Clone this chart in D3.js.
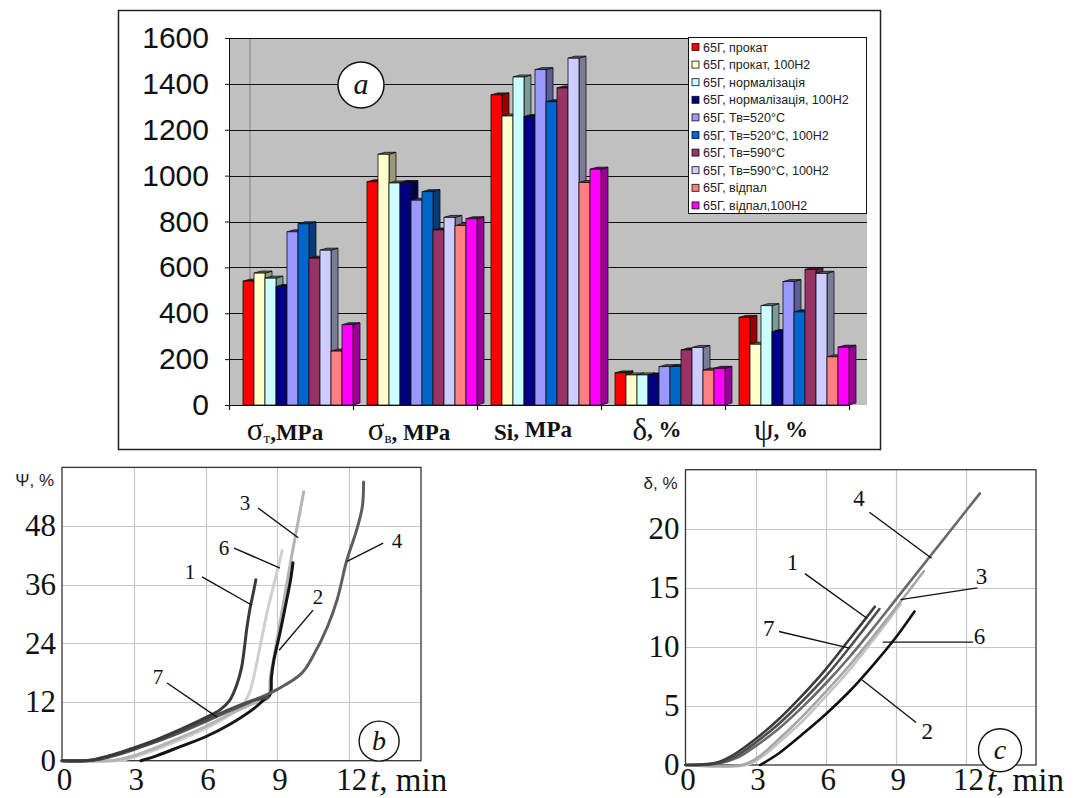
<!DOCTYPE html>
<meta charset="utf-8">
<style>

body {
  margin: 0;
  background: #fff;
}

svg {
  display: block;
}

.bar-axis text {
  font-family: "Liberation Sans", Arial, sans-serif;
  font-size: 30px;
  fill: #111;
}

.cat-label {
  font-family: "Liberation Serif", "Times New Roman", serif;
  font-weight: bold;
  fill: #111;
}

.legend text {
  font-family: "Liberation Sans", Arial, sans-serif;
  font-size: 12.5px;
  fill: #222;
}

.panel-axis text {
  font-family: "Liberation Serif", "Times New Roman", serif;
  font-size: 31px;
  fill: #111;
}

.curve {
  fill: none;
  stroke-linecap: round;
  stroke-linejoin: round;
}

.num-label {
  font-family: "Liberation Serif", "Times New Roman", serif;
  fill: #111;
}

</style>
<svg width="1082" height="798"></svg>

<script src="https://cdn.jsdelivr.net/npm/d3@7"></script>
<script>

// ---- (a) bar chart data ----
var seriesNames = [
  "65Г, прокат",
  "65Г, прокат, 100Н2",
  "65Г, нормалізація",
  "65Г, нормалізація, 100Н2",
  "65Г, Тв=520°С",
  "65Г, Тв=520°С, 100Н2",
  "65Г, Тв=590°С",
  "65Г, Тв=590°С, 100Н2",
  "65Г, відпал",
  "65Г, відпал,100Н2"
];
var seriesColors = ["#ff0000", "#ffffcc", "#ccffff", "#000080", "#9999ff",
                    "#0066cc", "#993366", "#ccccff", "#ff8080", "#ff00ff"];

var barCategories = ["σт", "σв", "Si", "δ", "ψ"];
var categoryMain = ["σ", "σ", "Si", "δ", "ψ"];
var categorySub = ["т", "в", "", "", ""];
var categoryUnit = [",MPa", ", MPa", ", MPa", ", %", ", %"];

var sigmaT = [540, 575, 553, 517, 755, 790, 640, 675, 235, 350];
var sigmaB = [973, 1093, 968, 970, 893, 930, 763, 818, 782, 812];
var siValues = [1352, 1260, 1430, 1258, 1462, 1322, 1382, 1512, 970, 1028];
var deltaValues = [140, 131, 131, 131, 167, 168, 240, 251, 152, 160];
var psiValues = [382, 265, 433, 320, 538, 406, 591, 574, 210, 252];

var barTicks = [0, 200, 400, 600, 800, 1000, 1200, 1400, 1600];

// ---- (b) and (c) curve data: [t, value] ----
var timeTicks = [0, 3, 6, 9, 12];
var psiTicks = [0, 12, 24, 36, 48];
var deltaTicks = [0, 5, 10, 15, 20];

var psiCurve1 = [[0, 0], [1.2, 0.1], [2, 1], [3, 2.6], [4, 4.4], [5, 6.5], [6, 8.8], [6.6, 10.4], [7, 12.3], [7.3, 15.5], [7.5, 19], [7.62, 23], [7.72, 27], [7.85, 31], [8.0, 34.5], [8.1, 37]];
var psiCurve2 = [[3.3, 0], [4, 1.1], [5, 3], [6, 4.9], [7, 7.4], [8, 10.6], [8.4, 12.3], [8.7, 13.6], [8.75, 17], [8.85, 20.5], [9.1, 26], [9.35, 32], [9.55, 37], [9.65, 40.5]];
var psiCurve3 = [[0, 0], [2.2, 0.1], [3, 1], [4, 2.8], [5, 4.8], [6, 7], [7, 9.5], [8, 11.7], [8.55, 12.6], [8.65, 13], [8.7, 17], [8.85, 21], [9.1, 28], [9.35, 35], [9.6, 42], [9.85, 48.5], [10.1, 55]];
var psiCurve4 = [[0, 0], [1.2, 0.1], [2, 1], [3, 2.4], [4, 4], [5, 5.9], [6, 8], [7, 10.2], [8, 12.3], [9, 14.6], [10, 17.8], [10.5, 21.5], [11.1, 27.5], [11.5, 33], [11.9, 41], [12.3, 47], [12.55, 52], [12.6, 57]];
var psiCurve6 = [[0, 0], [2.5, 0.1], [3, 0.7], [4, 2.4], [5, 4.4], [6, 6.6], [7, 9.3], [7.5, 11.2], [7.8, 13.5], [8.05, 18], [8.3, 24], [8.6, 31], [8.9, 37], [9.2, 43]];
var psiCurve7 = [[0, 0], [1.3, 0.1], [2, 0.8], [3, 2.3], [4, 4.1], [5, 6.1], [6, 8.3], [7, 10.5], [8, 12.4], [8.6, 13]];

var deltaCurve1 = [[0, 0], [1.3, 0.2], [2, 0.8], [3, 2.2], [4, 3.9], [5, 5.9], [6, 8.1], [7, 10.6], [8.1, 13.4]];
var deltaCurve2 = [[3.2, 0], [4, 1], [5, 2.6], [6, 4.3], [7, 6.2], [8, 8.4], [9, 10.8], [9.8, 13]];
var deltaCurve3 = [[0, 0], [2.4, 0], [3, 0.5], [4, 2.2], [5, 4.1], [6, 6.2], [7, 8.4], [8, 10.8], [9, 13.3], [10.2, 16.4]];
var deltaCurve4 = [[0, 0], [1.3, 0.1], [2.2, 0.6], [3, 1.6], [4, 3.1], [5, 4.9], [6, 6.9], [7, 9.1], [8, 11.5], [9, 14], [10, 16.5], [11, 19], [12, 21.5], [12.6, 23]];
var deltaCurve6 = [[0, 0], [2.6, 0], [3.2, 0.6], [4, 1.9], [5, 3.7], [6, 5.8], [7, 8], [8, 10.5], [9.2, 13.6]];
var deltaCurve7 = [[0, 0], [1.5, 0.2], [2.2, 0.8], [3, 1.9], [4, 3.5], [5, 5.4], [6, 7.5], [7, 9.9], [8.3, 13.2]];

var svg = d3.select("svg");

// ================= (a) =================
var barValues = [sigmaT, sigmaB, siValues, deltaValues, psiValues];
var plot = {left: 229, right: 849, wallRight: 867, top: 38, bottom: 405};
var depthX = 7, depthY = 2;

var yBar = d3.scaleLinear().domain([0, 1600]).range([plot.bottom, plot.top]);
var x0 = d3.scaleBand().domain(barCategories).range([plot.left, plot.right]);
var x1 = d3.scaleBand().domain(seriesNames).range([14, 124]);

svg.append("rect")
    .attr("x", 118.5).attr("y", 10.5)
    .attr("width", 762).attr("height", 439)
    .attr("fill", "#fff").attr("stroke", "#222").attr("stroke-width", 1.5);

svg.append("rect")
    .attr("x", plot.left).attr("y", plot.top)
    .attr("width", plot.wallRight - plot.left).attr("height", plot.bottom - plot.top)
    .attr("fill", "#c0c0c0");

svg.append("line")
    .attr("x1", 250).attr("x2", 250)
    .attr("y1", plot.top).attr("y2", plot.bottom - 4)
    .attr("stroke", "#808080");

svg.append("g")
  .selectAll("line")
  .data(barTicks.slice(1))
  .join("line")
    .attr("x1", plot.left).attr("x2", plot.wallRight)
    .attr("y1", function(d) { return Math.round(yBar(d)) + 0.5; })
    .attr("y2", function(d) { return Math.round(yBar(d)) + 0.5; })
    .attr("stroke", "#111");

var barData = [];
barCategories.forEach(function(c, ci) {
  seriesNames.forEach(function(s, si) {
    barData.push({cat: c, series: s, color: seriesColors[si], value: barValues[ci][si]});
  });
});

function shade(c, k) {
  var r = d3.rgb(c);
  return d3.rgb(r.r * k, r.g * k, r.b * k).toString();
}

var bar = svg.append("g")
  .selectAll("g")
  .data(barData)
  .join("g");

bar.append("path")
    .attr("d", function(d) {
      var x = x0(d.cat) + x1(d.series) + x1.bandwidth(), y = yBar(d.value), y0 = yBar(0);
      return "M" + x + "," + y + "L" + (x + depthX) + "," + (y - depthY) +
             "L" + (x + depthX) + "," + (y0 - depthY) + "L" + x + "," + y0 + "Z";
    })
    .attr("fill", function(d) { return shade(d.color, 0.6); })
    .attr("stroke", "#111").attr("stroke-width", 0.8);

bar.append("path")
    .attr("d", function(d) {
      var x = x0(d.cat) + x1(d.series), w = x1.bandwidth(), y = yBar(d.value);
      return "M" + x + "," + y + "L" + (x + depthX) + "," + (y - depthY) +
             "L" + (x + w + depthX) + "," + (y - depthY) + "L" + (x + w) + "," + y + "Z";
    })
    .attr("fill", function(d) { return shade(d.color, 0.45); })
    .attr("stroke", "#111").attr("stroke-width", 0.8);

bar.append("rect")
    .attr("x", function(d) { return x0(d.cat) + x1(d.series); })
    .attr("y", function(d) { return yBar(d.value); })
    .attr("width", x1.bandwidth())
    .attr("height", function(d) { return yBar(0) - yBar(d.value); })
    .attr("fill", function(d) { return d.color; })
    .attr("stroke", "#111").attr("stroke-width", 0.8);

var yAxis = svg.append("g")
    .attr("class", "bar-axis")
    .attr("transform", "translate(" + plot.left + ",0)")
    .call(d3.axisLeft(yBar).tickValues(barTicks).tickFormat(d3.format("d"))
      .tickSize(4).tickPadding(16).tickSizeOuter(0));
yAxis.selectAll("line, path").attr("stroke", "#111");

var xEdge = d3.scaleLinear().domain([0, barCategories.length]).range([plot.left, plot.right]);
var xAxis = svg.append("g")
    .attr("transform", "translate(0," + plot.bottom + ")")
    .call(d3.axisBottom(xEdge).tickValues(d3.range(barCategories.length + 1)).tickSize(5).tickFormat("").tickSizeOuter(0));
xAxis.selectAll("line, path").attr("stroke", "#111").attr("stroke-width", 1.2);

var catLabel = svg.append("g")
  .selectAll("text")
  .data(barCategories)
  .join("text")
    .attr("class", "cat-label")
    .attr("x", function(d) { return x0(d) + x0.bandwidth() / 2 - 6; })
    .attr("y", 440)
    .attr("text-anchor", "middle");

catLabel.append("tspan")
    .attr("font-size", function(d, i) { return categoryMain[i].length === 1 ? 31 : 23; })
    .attr("font-weight", function(d, i) { return categoryMain[i].length === 1 ? "normal" : "bold"; })
    .text(function(d, i) { return categoryMain[i]; });
catLabel.append("tspan")
    .attr("font-size", 15)
    .attr("font-weight", "normal")
    .attr("dy", 3)
    .text(function(d, i) { return categorySub[i]; });
catLabel.append("tspan")
    .attr("font-size", 23)
    .attr("dy", -3)
    .text(function(d, i) { return categoryUnit[i]; });

var legend = svg.append("g").attr("class", "legend");
legend.append("rect")
    .attr("x", 688.5).attr("y", 37.5)
    .attr("width", 178).attr("height", 176)
    .attr("fill", "#fff").attr("stroke", "#111");

var legendItem = legend.selectAll("g")
  .data(seriesNames)
  .join("g")
    .attr("transform", function(d, i) { return "translate(692," + (47 + i * 17.6) + ")"; });

legendItem.append("rect")
    .attr("x", 0).attr("y", -3.5)
    .attr("width", 7).attr("height", 7)
    .attr("fill", function(d, i) { return seriesColors[i]; })
    .attr("stroke", "#111").attr("stroke-width", 0.8);

legendItem.append("text")
    .attr("x", 11)
    .attr("dy", "0.36em")
    .text(function(d) { return d; });

svg.append("circle")
    .attr("cx", 361).attr("cy", 85).attr("r", 23)
    .attr("fill", "#fff").attr("stroke", "#111").attr("stroke-width", 1.5);
svg.append("text")
    .attr("class", "num-label")
    .attr("x", 361).attr("y", 94)
    .attr("text-anchor", "middle")
    .attr("font-size", 30).attr("font-style", "italic")
    .text("a");

// ================= (b), (c) =================
function drawPanel(p) {
  var x = d3.scaleLinear().domain([0, 15]).range(p.xRange);
  var y = d3.scaleLinear().domain(p.yDomain).range(p.yRange);
  var g = svg.append("g");

  g.append("g")
    .selectAll("line")
    .data(timeTicks.slice(1))
    .join("line")
      .attr("x1", function(d) { return Math.round(x(d)) + 0.5; })
      .attr("x2", function(d) { return Math.round(x(d)) + 0.5; })
      .attr("y1", y.range()[0]).attr("y2", y.range()[1])
      .attr("stroke", "#c8c8c8").attr("stroke-width", 1.2);

  g.append("g")
    .selectAll("line")
    .data(p.yTicks.slice(1))
    .join("line")
      .attr("x1", x.range()[0]).attr("x2", x.range()[1])
      .attr("y1", function(d) { return Math.round(y(d)) + 0.5; })
      .attr("y2", function(d) { return Math.round(y(d)) + 0.5; })
      .attr("stroke", "#c8c8c8").attr("stroke-width", 1.2);

  g.append("rect")
      .attr("x", x.range()[0]).attr("y", y.range()[1])
      .attr("width", x.range()[1] - x.range()[0])
      .attr("height", y.range()[0] - y.range()[1])
      .attr("fill", "none").attr("stroke", "#333").attr("stroke-width", 1.3);

  var ya = g.append("g")
      .attr("class", "panel-axis")
      .attr("transform", "translate(" + x.range()[0] + ",0)")
      .call(d3.axisLeft(y).tickValues(p.yTicks).tickSize(0).tickPadding(6));
  ya.select(".domain").remove();

  var xa = g.append("g")
      .attr("class", "panel-axis")
      .attr("transform", "translate(0," + y.range()[0] + ")")
      .call(d3.axisBottom(x).tickValues(timeTicks).tickSize(0).tickPadding(p.labelPad));
  xa.select(".domain").remove();
  xa.selectAll("text").attr("dx", 2);

  var unit = g.append("text")
      .attr("class", "num-label")
      .attr("x", x(12) + 21)
      .attr("y", p.unitY)
      .attr("font-size", 33);
  unit.append("tspan").attr("font-style", "italic").text("t");
  unit.append("tspan").text(", min");

  g.append("text")
      .attr("x", x.range()[0] - 8)
      .attr("y", y.range()[1] + 19)
      .attr("text-anchor", "end")
      .attr("font-family", "'Liberation Sans', Arial, sans-serif")
      .attr("font-size", 17)
      .attr("fill", "#222")
      .text(p.title);

  var line = d3.line()
      .x(function(d) { return x(d[0]); })
      .y(function(d) { return y(d[1]); })
      .curve(d3.curveCatmullRom.alpha(0.5));

  g.append("g")
    .selectAll("path")
    .data(p.curves)
    .join("path")
      .attr("class", "curve")
      .attr("d", function(d) { return line(d.data); })
      .attr("stroke", function(d) { return d.color; })
      .attr("stroke-width", p.curveWidth);

  var lab = g.append("g")
    .selectAll("g")
    .data(p.labels)
    .join("g");
  lab.append("line")
      .attr("x1", function(d) { return x(d.from[0]); })
      .attr("y1", function(d) { return y(d.from[1]); })
      .attr("x2", function(d) { return x(d.to[0]); })
      .attr("y2", function(d) { return y(d.to[1]); })
      .attr("stroke", "#111").attr("stroke-width", 1.4);
  lab.append("text")
      .attr("class", "num-label")
      .attr("x", function(d) { return x(d.at[0]); })
      .attr("y", function(d) { return y(d.at[1]); })
      .attr("dy", "0.35em")
      .attr("text-anchor", "middle")
      .attr("font-size", p.labelSize)
      .text(function(d) { return d.name; });

  g.append("circle")
      .attr("cx", x(p.mark[0])).attr("cy", y(p.mark[1])).attr("r", p.markR)
      .attr("fill", "#fff").attr("stroke", "#111").attr("stroke-width", 1.4);
  g.append("text")
      .attr("class", "num-label")
      .attr("x", x(p.mark[0])).attr("y", y(p.mark[1]))
      .attr("dy", "0.3em")
      .attr("text-anchor", "middle")
      .attr("font-size", 28).attr("font-style", "italic")
      .text(p.markText);
}

drawPanel({
  xRange: [62, 421],
  yDomain: [0, 60],
  yRange: [760.7, 467.4],
  yTicks: psiTicks,
  labelPad: 7,
  unitY: 790.7,
  title: "Ψ, %",
  curveWidth: 3,
  labelSize: 21,
  mark: [13.25, 4.0],
  markR: 20,
  markText: "b",
  curves: [
    {data: psiCurve6, color: "#cfcfcf"},
    {data: psiCurve3, color: "#b4b4b4"},
    {data: psiCurve2, color: "#151515"},
    {data: psiCurve4, color: "#5e5e5e"},
    {data: psiCurve7, color: "#4c4c4c"},
    {data: psiCurve1, color: "#3a3a3a"}
  ],
  labels: [
    {name: "1", at: [5.35, 38.6], from: [5.85, 37.6], to: [7.94, 31.8]},
    {name: "3", at: [7.65, 52.7], from: [8.19, 51.7], to: [9.87, 45.6]},
    {name: "6", at: [6.77, 43.5], from: [7.19, 43.5], to: [9.11, 39.4]},
    {name: "2", at: [10.7, 33.5], from: [10.49, 30.8], to: [9.07, 22.6]},
    {name: "4", at: [14.0, 45.1], from: [13.42, 44.5], to: [11.91, 40.8]},
    {name: "7", at: [4.01, 17.1], from: [4.39, 15.9], to: [6.48, 8.9]}
  ]
});

drawPanel({
  xRange: [685.5, 1036],
  yDomain: [0, 25],
  yRange: [765, 469.7],
  yTicks: deltaTicks,
  labelPad: 3,
  unitY: 791,
  title: "δ, %",
  curveWidth: 2.6,
  labelSize: 23,
  mark: [13.46, 1.25],
  markR: 21.5,
  markText: "c",
  curves: [
    {data: deltaCurve6, color: "#c4c4c4"},
    {data: deltaCurve3, color: "#a6a6a6"},
    {data: deltaCurve4, color: "#6a6a6a"},
    {data: deltaCurve7, color: "#4e4e4e"},
    {data: deltaCurve1, color: "#3c3c3c"},
    {data: deltaCurve2, color: "#111111"}
  ],
  labels: [
    {name: "4", at: [7.42, 22.6], from: [7.87, 21.4], to: [10.53, 17.5]},
    {name: "1", at: [4.58, 17.2], from: [5.11, 16.2], to: [7.78, 12.4]},
    {name: "3", at: [12.67, 16.0], from: [12.49, 15.0], to: [9.2, 14.0]},
    {name: "7", at: [3.56, 11.6], from: [4.0, 11.3], to: [7.02, 9.9]},
    {name: "6", at: [12.58, 10.9], from: [12.31, 10.4], to: [8.44, 10.4]},
    {name: "2", at: [10.35, 2.9], from: [9.87, 3.6], to: [7.56, 7.2]}
  ]
});

</script>
